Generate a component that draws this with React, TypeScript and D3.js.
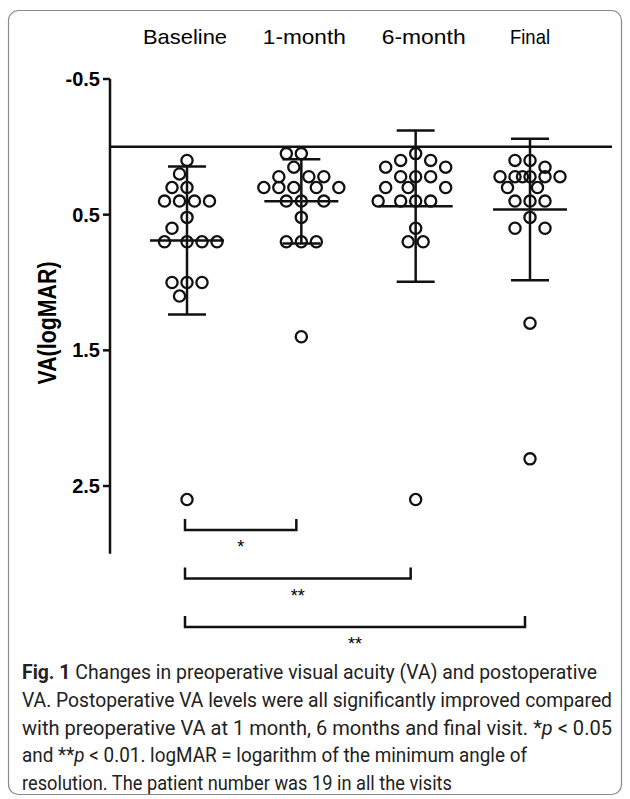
import * as d3 from "d3";

const width = 630;
const height = 799;

// visits along the top, one column each
const categories = ["Baseline", "1-month", "6-month", "Final"];

// VA (logMAR) of the 19 patients at each visit
const baseline = [0.1, 0.2, 0.3, 0.3, 0.4, 0.4, 0.4, 0.4, 0.52, 0.6, 0.7, 0.7, 0.7, 0.7, 1.0, 1.0, 1.0, 1.1, 2.6];
const month1 = [0.05, 0.05, 0.15, 0.22, 0.22, 0.22, 0.3, 0.3, 0.3, 0.3, 0.3, 0.4, 0.4, 0.4, 0.52, 0.7, 0.7, 0.7, 1.4];
const month6 = [0.05, 0.1, 0.1, 0.15, 0.15, 0.22, 0.22, 0.22, 0.3, 0.3, 0.3, 0.4, 0.4, 0.4, 0.4, 0.6, 0.7, 0.7, 2.6];
const finalVisit = [0.1, 0.1, 0.15, 0.22, 0.22, 0.22, 0.22, 0.22, 0.22, 0.3, 0.3, 0.4, 0.4, 0.4, 0.52, 0.6, 0.6, 1.3, 2.3];

const series = [baseline, month1, month6, finalVisit];

const yTicks = [-0.5, 0.5, 1.5, 2.5];

// significance brackets: from, to, label
const comparisons: [string, string, string][] = [
  ["Baseline", "1-month", "*"],
  ["Baseline", "6-month", "**"],
  ["Baseline", "Final", "**"],
];

const captionLines = [
  { parts: [{ t: "Fig. 1", b: true }, { t: " Changes in preoperative visual acuity (VA) and postoperative" }], len: 575 },
  { parts: [{ t: "VA. Postoperative VA levels were all significantly improved compared" }], len: 590 },
  { parts: [{ t: "with preoperative VA at 1 month, 6 months and final visit. *" }, { t: "p", i: true }, { t: " < 0.05" }], len: 590 },
  { parts: [{ t: "and **" }, { t: "p", i: true }, { t: " < 0.01. logMAR = logarithm of the minimum angle of" }], len: 505 },
  { parts: [{ t: "resolution. The patient number was 19 in all the visits" }], len: 430 },
];

const catLabelWidths = [84, 83, 84, 40];

const xScale = d3.scalePoint<string>().domain(categories).range([187, 530]);
const yScale = d3.scaleLinear().domain([-0.5, 2.5]).range([79, 486]);
const axisX = 110;
const axisEnd = 3.0;

// simple beeswarm so tied values spread sideways like Prism does
function swarm(values: number[], cx: number) {
  const sorted = [...values].sort((a, b) => a - b);
  const placed: { x: number; y: number }[] = [];
  const step = 7.5, minD = 15, maxK = 5;
  for (const v of sorted) {
    const y = yScale(v);
    let best = 0, bestScore = -Infinity;
    outer: for (let k = 0; k <= maxK; k++) {
      for (const s of k === 0 ? [0] : [-1, 1]) {
        const dx = s * k * step;
        const md = placed.length ? d3.min(placed, q => Math.hypot(q.x - (cx + dx), q.y - y))! : Infinity;
        if (md >= minD) { best = dx; bestScore = Infinity; break outer; }
        if (md > bestScore) { bestScore = md; best = dx; }
      }
    }
    placed.push({ x: cx + best, y });
  }
  return placed;
}

export default function App() {
  const stroke = "#111";
  const font = "Liberation Sans, Arial, sans-serif";
  return (
    <svg width={width} height={height} style={{ position: "absolute", left: 0, top: 0, background: "#fff" }}>
      <rect x={8.5} y={10.5} width={613} height={784} rx={10} fill="#fff" stroke="#8a8a8a" strokeWidth={1.2} />

      {/* category labels on top */}
      {categories.map((c, i) => (
        <text key={c} x={xScale(c)! + [-2, 3, 8, 0][i]} y={44} textAnchor="middle" fontFamily={font}
          fontSize={21} textLength={catLabelWidths[i]} lengthAdjust="spacingAndGlyphs" fill="#000">{c}</text>
      ))}

      {/* y axis */}
      <line x1={axisX} x2={axisX} y1={yScale(-0.5)} y2={yScale(axisEnd)} stroke={stroke} strokeWidth={2.5} />
      {yTicks.map(t => (
        <g key={t}>
          <line x1={axisX - 7} x2={axisX} y1={yScale(t)} y2={yScale(t)} stroke={stroke} strokeWidth={2.5} />
          <text x={axisX - 10} y={yScale(t) + 7} textAnchor="end" fontFamily={font}
            fontWeight="bold" fontSize={20} fill="#000">{t}</text>
        </g>
      ))}
      <text transform={`translate(56,${323}) rotate(-90)`} textAnchor="middle" fontFamily={font}
        fontWeight="bold" fontSize={26} textLength={123} lengthAdjust="spacingAndGlyphs" fill="#000">VA(logMAR)</text>

      {/* reference line at 0 */}
      <line x1={axisX} x2={612} y1={yScale(0)} y2={yScale(0)} stroke={stroke} strokeWidth={2.5} />

      {series.map((vals, i) => {
        const cx = xScale(categories[i])!;
        const m = d3.mean(vals)!;
        const sd = d3.deviation(vals)!;
        const pts = swarm(vals, cx);
        return (
          <g key={i}>
            <line x1={cx} x2={cx} y1={yScale(m - sd)} y2={yScale(m + sd)} stroke={stroke} strokeWidth={2.5} />
            <line x1={cx - 19} x2={cx + 19} y1={yScale(m - sd)} y2={yScale(m - sd)} stroke={stroke} strokeWidth={2.5} />
            <line x1={cx - 19} x2={cx + 19} y1={yScale(m + sd)} y2={yScale(m + sd)} stroke={stroke} strokeWidth={2.5} />
            <line x1={cx - 37} x2={cx + 37} y1={yScale(m)} y2={yScale(m)} stroke={stroke} strokeWidth={2.5} />
            {pts.map((p, j) => (
              <circle key={j} cx={p.x} cy={p.y} r={5.6} fill="none" stroke={stroke} strokeWidth={2.3} />
            ))}
          </g>
        );
      })}

      {/* significance brackets */}
      {comparisons.map(([a, b, lab], i) => {
        const x1 = xScale(a)! - 2;
        const x2 = xScale(b)! - 5;
        const y = 530 + i * 48.5;
        return (
          <g key={i}>
            <path d={`M${x1},${y - 11}V${y}H${x2}V${y - 11}`} fill="none" stroke={stroke} strokeWidth={2.5} />
            <text x={(x1 + x2) / 2} y={y + 23} textAnchor="middle" fontFamily={font}
              fontSize={18} fill="#000">{lab}</text>
          </g>
        );
      })}

      {/* caption */}
      {captionLines.map((ln, i) => (
        <text key={i} x={22} y={679 + i * 27.8} fontFamily="Liberation Sans Narrow, Roboto, Liberation Sans, sans-serif" fontSize={21}
          textLength={ln.len} lengthAdjust="spacingAndGlyphs" fill="#222">
          {ln.parts.map((p: any, j) => (
            <tspan key={j} fontWeight={p.b ? "bold" : "normal"} fontStyle={p.i ? "italic" : "normal"}>{p.t}</tspan>
          ))}
        </text>
      ))}
    </svg>
  );
}
